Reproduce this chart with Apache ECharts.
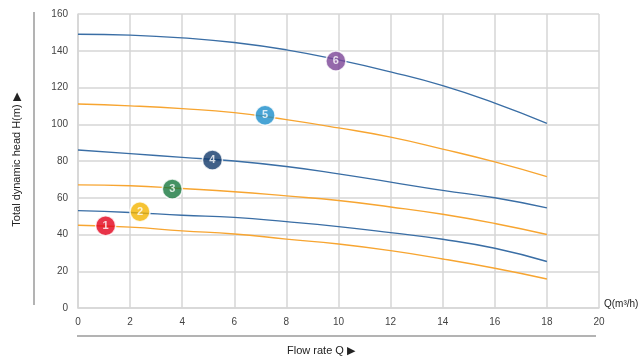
<!DOCTYPE html>
<html><head><meta charset="utf-8">
<script src="https://cdn.jsdelivr.net/npm/echarts@6/dist/echarts.min.js"></script>
<style>html,body{margin:0;padding:0;background:#fff}#c{width:644px;height:361px}</style>
</head><body><div id="c"></div>
<script>
var flow = [0, 2, 4, 6, 8, 10, 12, 14, 16, 18];
var curve1 = [45, 44, 42, 40.3, 37.5, 34.8, 31.2, 26.7, 21.6, 15.8];
var curve2 = [53, 52, 50.5, 49.3, 47, 44.3, 41, 37.4, 32.5, 25.3];
var curve3 = [67, 66.5, 65, 63.3, 61, 58.5, 55, 51, 46, 40];
var curve4 = [86, 84, 82, 80, 77, 73, 68.5, 64, 60, 54.5];
var curve5 = [111, 110, 108.5, 106.3, 102.5, 98, 93, 86.5, 79.5, 71.5];
var curve6 = [149, 148.5, 147, 144.5, 140.5, 135, 128.5, 121, 111.5, 100.5];
var badgeNames = ['1', '2', '3', '4', '5', '6'];
var badgeX = [1.06, 2.38, 3.62, 5.16, 7.18, 9.9];
var badgeY = [44.8, 52.4, 64.8, 80.5, 104.9, 134.4];
var badgeColors = ['#e2001a', '#f4b400', '#17773d', '#10386a', '#1a8dcb', '#7a4496'];
var lineColors = ['#f7a531', '#3a6ea5', '#f7a531', '#3a6ea5', '#f7a531', '#3a6ea5'];
var curves = [curve1, curve2, curve3, curve4, curve5, curve6];

var series = curves.map(function (c, i) {
  return {
    type: 'line', smooth: true, symbol: 'none', silent: true,
    lineStyle: { color: lineColors[i], width: 1.4 },
    data: flow.map(function (x, j) { return [x, c[j]]; }),
    z: 2
  };
});
series.push({
  type: 'scatter', symbolSize: 20, z: 5,
  data: badgeNames.map(function (n, i) {
    return { value: [badgeX[i], badgeY[i]], name: n,
      itemStyle: { color: badgeColors[i], borderColor: '#fff', borderWidth: 1.5 } };
  }),
  label: { show: true, position: 'inside', formatter: '{b}', color: '#fff',
    fontSize: 11, fontWeight: 'bold', fontFamily: 'Liberation Sans' }
});

var chart = echarts.init(document.getElementById('c'), null, { renderer: 'canvas' });
chart.setOption({
  animation: false,
  backgroundColor: '#fff',
  grid: { left: 78, right: 45, top: 14, bottom: 53 },
  xAxis: {
    type: 'value', min: 0, max: 20, interval: 2,
    axisLine: { show: true, lineStyle: { color: '#d6d6d6', width: 1.5 } },
    axisTick: { show: false },
    splitLine: { show: true, lineStyle: { color: '#d6d6d6', width: 1.5 } },
    axisLabel: { color: '#444', fontSize: 10, margin: 9, fontFamily: 'Liberation Sans' }
  },
  yAxis: {
    type: 'value', min: 0, max: 160, interval: 20,
    axisLine: { show: true, lineStyle: { color: '#d6d6d6', width: 1.5 } },
    axisTick: { show: false },
    splitLine: { show: true, lineStyle: { color: '#d6d6d6', width: 1.5 } },
    axisLabel: { color: '#444', fontSize: 10, margin: 10, fontFamily: 'Liberation Sans' }
  },
  graphic: [
    { type: 'line', shape: { x1: 34, y1: 12, x2: 34, y2: 305 }, style: { stroke: '#9a9a9a', lineWidth: 1.5 } },
    { type: 'line', shape: { x1: 77, y1: 336, x2: 596, y2: 336 }, style: { stroke: '#9a9a9a', lineWidth: 1.5 } },
    { type: 'text', x: 321, y: 351, style: { text: 'Flow rate Q \u25B6', fill: '#222', font: '11px "Liberation Sans"', textAlign: 'center', textVerticalAlign: 'middle' } },
    { type: 'text', x: 604, y: 304, style: { text: 'Q(m\u00B3/h)', fill: '#222', font: '10px "Liberation Sans"', textAlign: 'left', textVerticalAlign: 'middle' } },
    { type: 'text', x: 17, y: 160, rotation: Math.PI / 2, style: { text: 'Total dynamic head H(m) \u25B6', fill: '#222', font: '11px "Liberation Sans"', textAlign: 'center', textVerticalAlign: 'middle' } }
  ],
  series: series
});
</script></body></html>
